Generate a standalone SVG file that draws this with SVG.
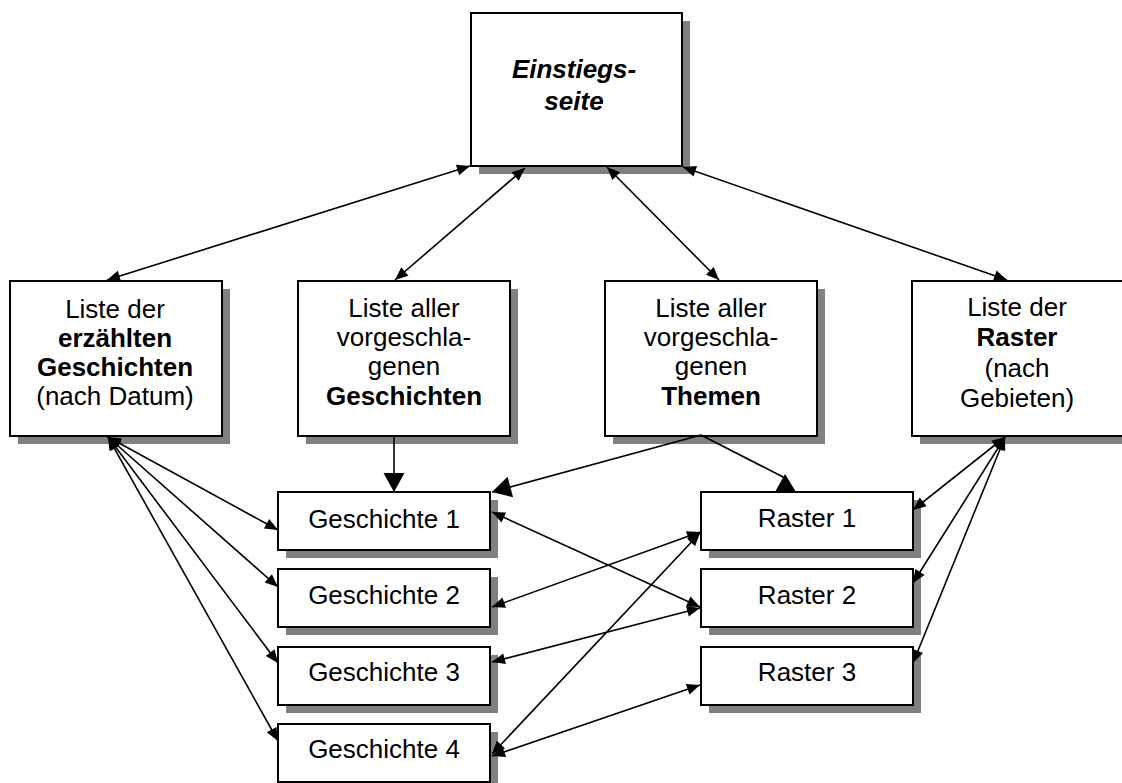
<svg xmlns="http://www.w3.org/2000/svg" width="1122" height="783" viewBox="0 0 1122 783">
<style>
.sh{fill:#808080}
.bx{fill:#fff;stroke:#000;stroke-width:2}
.t{font-family:"Liberation Sans",Arial,sans-serif;font-size:26px;text-anchor:middle;fill:#000}
.b{font-weight:bold}
.bi{font-weight:bold;font-style:italic}
.c{stroke:#000;stroke-width:1.6;fill:none}
.cb{stroke:#000;stroke-width:1.6;fill:none;marker-start:url(#ah);marker-end:url(#ah)}
.ce{stroke:#000;stroke-width:1.6;fill:none;marker-end:url(#big)}
</style>
<defs>
<marker id="ah" markerUnits="userSpaceOnUse" markerWidth="14" markerHeight="11" refX="13" refY="5.5" orient="auto-start-reverse" overflow="visible">
<path d="M0,0 L13,5.5 L0,11 z" fill="#000"/>
</marker>
<marker id="big" markerUnits="userSpaceOnUse" markerWidth="21" markerHeight="21" refX="19" refY="10.5" orient="auto" overflow="visible">
<path d="M0,0 L19,10.5 L0,21 z" fill="#000"/>
</marker>
</defs>
<rect width="1122" height="783" fill="#fff"/>

<g id="einstieg">
<rect class="sh" x="479" y="21" width="211" height="153"/>
<rect class="bx" x="471" y="13" width="211" height="153"/>
<text class="t bi" x="574" y="78">Einstiegs-</text>
<text class="t bi" x="574" y="110">seite</text>
</g>

<g id="liste-erzaehlt">
<rect class="sh" x="18" y="289" width="212" height="155"/>
<rect class="bx" x="10" y="281" width="212" height="155"/>
<text class="t" x="115" y="318">Liste der</text>
<text class="t b" x="115" y="347">erzählten</text>
<text class="t b" x="115" y="376">Geschichten</text>
<text class="t" x="115" y="405">(nach Datum)</text>
</g>

<g id="liste-geschichten">
<rect class="sh" x="306" y="289" width="212" height="155"/>
<rect class="bx" x="298" y="281" width="212" height="155"/>
<text class="t" x="404" y="317">Liste aller</text>
<text class="t" x="404" y="346">vorgeschla-</text>
<text class="t" x="404" y="375">genen</text>
<text class="t b" x="404" y="405">Geschichten</text>
</g>

<g id="liste-themen">
<rect class="sh" x="613" y="289" width="212" height="155"/>
<rect class="bx" x="605" y="281" width="212" height="155"/>
<text class="t" x="711" y="317">Liste aller</text>
<text class="t" x="711" y="346">vorgeschla-</text>
<text class="t" x="711" y="375">genen</text>
<text class="t b" x="711" y="405">Themen</text>
</g>

<g id="liste-raster">
<rect class="sh" x="920" y="289" width="212" height="155"/>
<rect class="bx" x="912" y="281" width="212" height="155"/>
<text class="t" x="1017" y="316">Liste der</text>
<text class="t b" x="1017" y="346">Raster</text>
<text class="t" x="1017" y="377">(nach</text>
<text class="t" x="1017" y="407">Gebieten)</text>
</g>

<g id="geschichte1">
<rect class="sh" x="286" y="500" width="212" height="58"/>
<rect class="bx" x="278" y="492" width="212" height="58"/>
<text class="t" x="384" y="528">Geschichte 1</text>
</g>
<g id="geschichte2">
<rect class="sh" x="286" y="577" width="212" height="58"/>
<rect class="bx" x="278" y="569" width="212" height="58"/>
<text class="t" x="384" y="604">Geschichte 2</text>
</g>
<g id="geschichte3">
<rect class="sh" x="286" y="655" width="212" height="58"/>
<rect class="bx" x="278" y="647" width="212" height="58"/>
<text class="t" x="384" y="681">Geschichte 3</text>
</g>
<g id="geschichte4">
<rect class="sh" x="286" y="732" width="212" height="58"/>
<rect class="bx" x="278" y="724" width="212" height="58"/>
<text class="t" x="384" y="758">Geschichte 4</text>
</g>

<g id="raster1">
<rect class="sh" x="709" y="500" width="212" height="58"/>
<rect class="bx" x="701" y="492" width="212" height="58"/>
<text class="t" x="807" y="527">Raster 1</text>
</g>
<g id="raster2">
<rect class="sh" x="709" y="577" width="212" height="58"/>
<rect class="bx" x="701" y="569" width="212" height="58"/>
<text class="t" x="807" y="604">Raster 2</text>
</g>
<g id="raster3">
<rect class="sh" x="709" y="655" width="212" height="58"/>
<rect class="bx" x="701" y="647" width="212" height="58"/>
<text class="t" x="807" y="681">Raster 3</text>
</g>

<g id="connectors">
<line class="cb" x1="107" y1="280" x2="470" y2="166"/>
<line class="cb" x1="395" y1="280" x2="525" y2="168"/>
<line class="cb" x1="719" y1="280" x2="607" y2="167"/>
<line class="cb" x1="1007" y1="280" x2="683" y2="167"/>

<line class="cb" x1="278" y1="530" x2="108" y2="437"/>
<line class="cb" x1="278" y1="587" x2="108" y2="437"/>
<line class="cb" x1="278" y1="663" x2="108" y2="437"/>
<line class="cb" x1="278" y1="741" x2="108" y2="437"/>

<line class="ce" x1="394" y1="436" x2="394" y2="492"/>
<line class="ce" x1="701" y1="435" x2="492" y2="492"/>
<line class="c" x1="701" y1="435" x2="785" y2="478"/>
<polygon points="775,492 796,492 785,474" fill="#000"/>

<line class="cb" x1="913" y1="510" x2="1005" y2="437"/>
<line class="cb" x1="913" y1="583" x2="1005" y2="437"/>
<line class="cb" x1="913" y1="663" x2="1005" y2="437"/>

<line class="cb" x1="492" y1="512" x2="700" y2="607"/>
<line class="cb" x1="492" y1="607" x2="700" y2="532"/>
<line class="cb" x1="492" y1="662" x2="700" y2="608"/>
<line class="cb" x1="492" y1="754" x2="700" y2="533"/>
<line class="cb" x1="492" y1="756" x2="700" y2="685"/>
</g>
</svg>
